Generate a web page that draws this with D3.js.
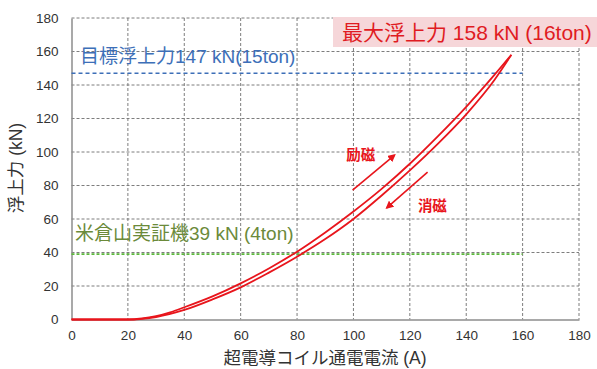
<!DOCTYPE html>
<html>
<head>
<meta charset="utf-8">
<script src="https://cdn.jsdelivr.net/npm/d3@7"></script>
<style>
  body { margin: 0; background: #fff; }
  svg { display: block; font-family: "Liberation Sans", Arial, sans-serif; }
  .jp { font-family: "Liberation Sans", Arial, "Noto Sans CJK JP", sans-serif; }
</style>
</head>
<body>
<svg id="chart" width="597" height="369"></svg>
<script>
// tick values
const xTicks = [0, 20, 40, 60, 80, 100, 120, 140, 160, 180];
const yTicks = [0, 20, 40, 60, 80, 100, 120, 140, 160, 180];

// excitation (励磁) curve, current A -> lift kN
const upI = [0, 20, 25, 30, 35, 40, 50, 60, 70, 80, 90, 100, 110, 120, 130, 140, 150, 156];
const upF = [0, 0, 0.6, 2, 4.3, 7.3, 13.8, 21.6, 30.5, 40.5, 52, 64.5, 78, 93, 109.5, 127, 146, 158];

// demagnetization (消磁) curve
const downI = [156, 150, 140, 130, 120, 110, 100, 90, 80, 70, 60, 50, 40, 30, 25, 22, 0];
const downF = [158, 143, 122.5, 105, 89, 74, 60, 48, 37.5, 28, 19.2, 12, 5.7, 1.5, 0.4, 0, 0];

// reference levels
const targetForce = 147;   // 目標浮上力
const yamanashiForce = 39; // 米倉山実証機
const refLineEnd = 160;

const svg = d3.select("#chart");
const chartGeom = { left: 71.5, right: 579, top: 18, bottom: 319.5 };

const x = d3.scaleLinear().domain([0, 180]).range([chartGeom.left, chartGeom.right]);
const y = d3.scaleLinear().domain([0, 180]).range([chartGeom.bottom, chartGeom.top]);

/* grid */
svg.append("g")
  .selectAll("line")
  .data(xTicks.slice(1))
  .enter().append("line")
  .attr("x1", d => x(d)).attr("x2", d => x(d))
  .attr("y1", y(180)).attr("y2", y(0))
  .attr("stroke", "#7d7d7d").attr("stroke-width", 1)
  .attr("stroke-dasharray", "3,2");

svg.append("g")
  .selectAll("line")
  .data(yTicks.slice(1))
  .enter().append("line")
  .attr("x1", x(0)).attr("x2", x(180))
  .attr("y1", d => y(d)).attr("y2", d => y(d))
  .attr("stroke", "#7d7d7d").attr("stroke-width", 1)
  .attr("stroke-dasharray", "3,2");

/* axes */
const xAxis = svg.append("g")
  .attr("transform", `translate(0,${y(0)})`)
  .call(d3.axisBottom(x).tickValues(xTicks).tickSize(0).tickPadding(11));
const yAxis = svg.append("g")
  .attr("transform", `translate(${x(0)},0)`)
  .call(d3.axisLeft(y).tickValues(yTicks).tickSize(0).tickPadding(13));
[xAxis, yAxis].forEach(a => {
  a.select(".domain").attr("stroke", "#8c8c8c").attr("stroke-width", 1.5);
  a.selectAll("text").attr("font-size", "13.5px").attr("fill", "#333");
});

/* reference lines */
svg.append("line")
  .attr("x1", x(0)).attr("x2", x(refLineEnd))
  .attr("y1", y(targetForce)).attr("y2", y(targetForce))
  .attr("stroke", "#3d6fb8").attr("stroke-width", 1.6)
  .attr("stroke-dasharray", "4,3");

svg.append("line")
  .attr("x1", x(0)).attr("x2", x(refLineEnd))
  .attr("y1", y(yamanashiForce)).attr("y2", y(yamanashiForce))
  .attr("stroke", "#5cb83c").attr("stroke-width", 1.8)
  .attr("stroke-dasharray", "3,2");

/* hysteresis curves */
const line = d3.line().x(d => x(d[0])).y(d => y(d[1])).curve(d3.curveMonotoneX);

svg.append("path")
  .datum(upI.map((v, i) => [v, upF[i]]))
  .attr("d", line)
  .attr("fill", "none").attr("stroke", "#e8151c").attr("stroke-width", 1.8);

svg.append("path")
  .datum(downI.map((v, i) => [v, downF[i]]).reverse())
  .attr("d", line)
  .attr("fill", "none").attr("stroke", "#e8151c").attr("stroke-width", 1.8);

/* arrows */
const defs = svg.append("defs");
defs.append("marker")
  .attr("id", "arrowhead")
  .attr("viewBox", "0 0 10 10")
  .attr("refX", 8).attr("refY", 5)
  .attr("markerWidth", 5).attr("markerHeight", 5)
  .attr("orient", "auto")
  .append("path")
  .attr("d", "M0,0 L10,5 L0,10 z")
  .attr("fill", "#e8151c");

const arrows = [
  [[99.7, 77.3], [114.6, 98.2]],
  [[126.3, 88], [111.8, 66.6]]
];
svg.append("g")
  .selectAll("line")
  .data(arrows)
  .enter().append("line")
  .attr("x1", d => x(d[0][0])).attr("y1", d => y(d[0][1]))
  .attr("x2", d => x(d[1][0])).attr("y2", d => y(d[1][1]))
  .attr("stroke", "#e8151c").attr("stroke-width", 1.6)
  .attr("marker-end", "url(#arrowhead)");

svg.append("text").attr("class", "jp")
  .attr("x", x(102.6)).attr("y", y(98)).attr("dy", "0.35em")
  .attr("text-anchor", "middle").attr("font-size", "14.5px").attr("font-weight", "700")
  .attr("fill", "#e8151c").text("励磁");
svg.append("text").attr("class", "jp")
  .attr("x", x(128)).attr("y", y(67.7)).attr("dy", "0.35em")
  .attr("text-anchor", "middle").attr("font-size", "14.5px").attr("font-weight", "700")
  .attr("fill", "#e8151c").text("消磁");

/* labels for reference lines */
svg.append("text").attr("class", "jp")
  .attr("x", 80).attr("y", 56).attr("dy", "0.35em")
  .attr("font-size", "19px")
  .attr("fill", "#3d6fb8").text("目標浮上力147 kN(15ton)");

svg.append("text").attr("class", "jp")
  .attr("x", 75).attr("y", 233).attr("dy", "0.35em")
  .attr("font-size", "19px")
  .attr("fill", "#6b8a3a").text("米倉山実証機39 kN (4ton)");

/* max lift callout */
svg.append("rect")
  .attr("x", 333).attr("y", 17).attr("width", 264).attr("height", 30)
  .attr("fill", "#f6d6d9");
svg.append("text").attr("class", "jp")
  .attr("x", 342).attr("y", 33).attr("dy", "0.35em")
  .attr("font-size", "21px")
  .attr("fill", "#e01b22").text("最大浮上力 158 kN (16ton)");

/* axis titles */
svg.append("text").attr("class", "jp")
  .attr("x", 325).attr("y", 358).attr("dy", "0.35em")
  .attr("text-anchor", "middle").attr("font-size", "17.5px")
  .attr("fill", "#333").text("超電導コイル通電電流 (A)");

svg.append("text").attr("class", "jp")
  .attr("transform", "translate(16,168) rotate(-90)")
  .attr("dy", "0.35em")
  .attr("text-anchor", "middle").attr("font-size", "17.5px")
  .attr("fill", "#333").text("浮上力 (kN)");
</script>
</body>
</html>
